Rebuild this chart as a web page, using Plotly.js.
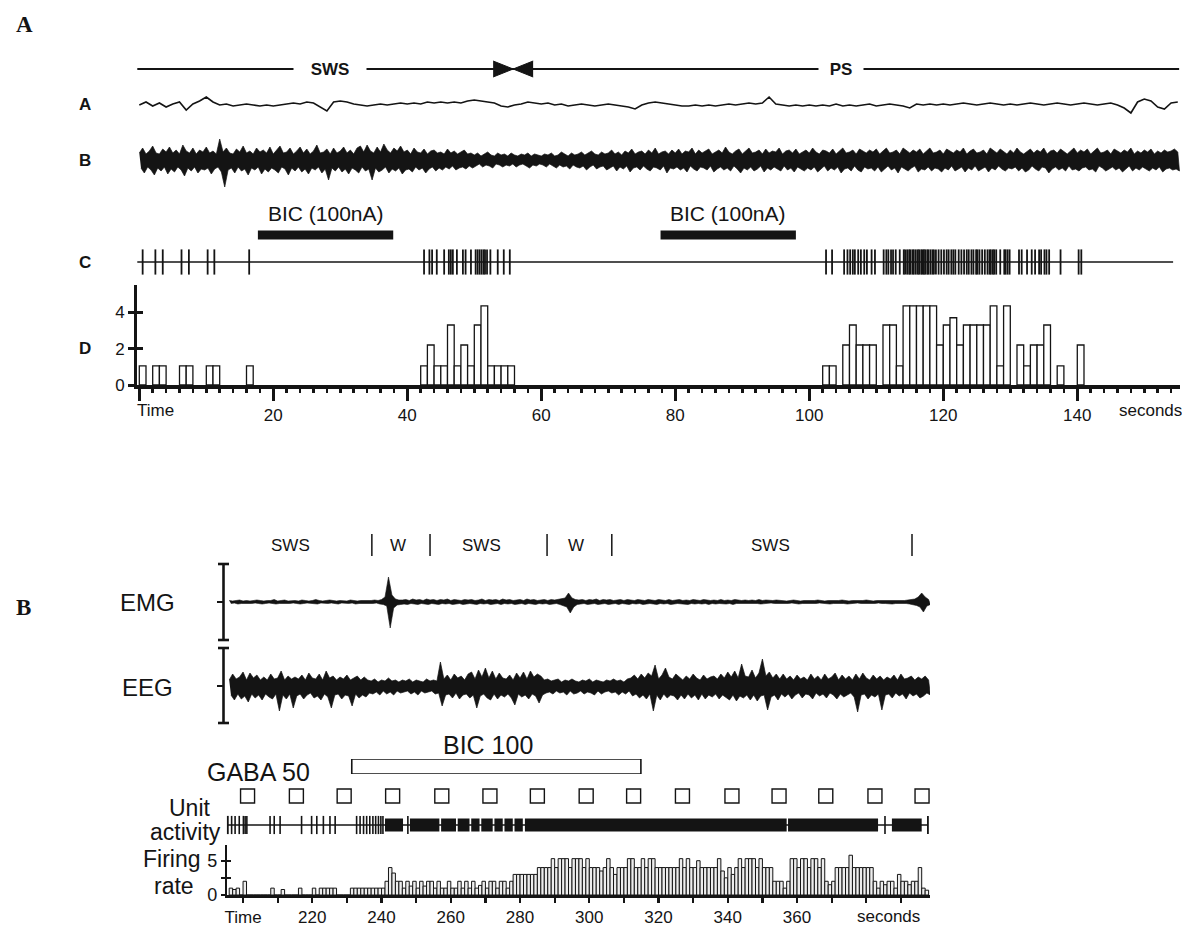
<!DOCTYPE html>
<html><head><meta charset="utf-8">
<script src="https://cdn.plot.ly/plotly-3.0.1.min.js"></script>
<style>html,body{margin:0;padding:0;background:#fff}#chart{width:1182px;height:927px}</style>
</head><body><div id="chart"></div>
<script>
// ===================== PANEL A DATA =====================
const stateA_labels = ['SWS', 'PS'];
const stateA_pos = [28.5, 104.8];
const stateA_change = 55.8;
const stateA_span = [-0.3, 155.2];

// trace A (1 s samples from t = 0)
const traceA = [0,3,-1,2,-2,1,3,-5,1,4, 8,3,0,1,-1,0,1,0,-1,0, -1,0,1,2,1,3,2,-2,-6,3,
 4,3,1,0,-1,0,1,0,1,2, 1,2,1,3,2,3,2,3,2,4, 5,4,3,2,-1,-2,0,1,3,2,
 1,2,0,1,-1,0,1,0,-1,0, 1,0,-1,-2,-4,0,2,3,2,1, 0,-1,-1,0,-1,0,-1,0,1,0,
 1,2,1,2,8,1,0,-1,0,-1, 0,-1,0,-1,1,-1,0,-1,0,1, -1,0,1,0,-1,-3,1,0,1,0,
 1,0,1,2,1,0,1,2,1,0, 1,0,1,2,1,0,1,2,1,0, 1,2,1,0,1,2,0,-3,-8,3, 6,4,-2,-4,2,3];

// trace B envelope (0.5 s samples from t = 0)
const eegA_hi = [7,12,6,9,14,7,6,11,8,13, 7,10,6,15,9,7,12,6,10,8,
 13,7,9,6,21,8,12,7,6,11, 8,14,7,9,6,12,8,10,7,13,
 6,10,14,7,8,12,6,9,13,7, 11,6,9,15,7,8,11,6,12,7,
 9,13,7,10,6,12,14,8,15,9, 7,13,8,16,10,7,12,9,14,8,
 10,6,12,8,7,11,6,9,10,7, 8,6,11,7,9,6,8,10,6,7,
 5,7,4,6,8,5,4,7,5,6, 4,7,5,4,6,5,7,4,6,5,
 4,6,5,7,4,5,8,6,4,7, 5,6,8,5,7,9,6,5,8,6,
 7,10,6,8,5,9,7,11,6,8, 9,6,10,7,12,6,8,9,6,10,
 7,11,6,9,8,12,6,10,7,9, 11,6,8,10,7,13,8,6,9,11,
 6,9,12,7,8,10,6,11,7,9, 8,12,6,9,10,7,11,6,8,10,
 7,12,8,6,10,9,7,11,6,9, 12,7,8,10,6,11,9,7,10,8,
 11,6,9,12,7,8,10,6,12,9, 7,10,8,11,6,9,12,7,8,10,
 6,11,9,7,10,8,12,6,9,11, 7,8,10,6,12,9,7,11,8,6,
 10,7,12,8,6,9,11,7,10,8, 12,6,9,10,7,11,8,6,9,12,
 7,10,8,11,6,9,12,7,8,10, 6,11,9,7,10,8,12,6,9,7,
 10,8,11,6,9,7,10,8,9,11, 8];
const eegA_lo = [-8,-13,-7,-10,-15,-8,-11,-7,-14,-9, -12,-7,-10,-16,-8,-11,-7,-13,-9,-10,
 -8,-14,-9,-7,-12,-27,-10,-8,-13,-7, -11,-9,-15,-8,-10,-7,-14,-9,-12,-8,
 -10,-13,-7,-9,-15,-8,-11,-7,-12,-9, -14,-8,-10,-7,-13,-9,-20,-8,-11,-7,
 -12,-9,-14,-8,-10,-13,-7,-11,-9,-20, -8,-12,-10,-7,-13,-9,-11,-8,-14,-10,
 -9,-12,-7,-10,-8,-13,-9,-7,-11,-8, -10,-7,-9,-6,-10,-8,-7,-9,-6,-8,
 -6,-4,-7,-5,-6,-8,-4,-5,-7,-5, -6,-4,-7,-5,-4,-6,-8,-5,-6,-4,
 -5,-7,-4,-6,-8,-5,-7,-6,-9,-5, -7,-8,-6,-10,-7,-5,-9,-7,-6,-10,
 -8,-6,-11,-7,-9,-6,-12,-8,-7,-10, -6,-9,-11,-7,-8,-10,-6,-13,-8,-9,
 -7,-10,-8,-12,-6,-9,-11,-7,-8,-10, -6,-12,-9,-7,-10,-8,-11,-6,-9,-13,
 -8,-10,-7,-11,-9,-6,-12,-8,-10,-7, -9,-11,-6,-10,-8,-12,-7,-9,-11,-8,
 -10,-7,-12,-9,-6,-11,-8,-10,-7,-13, -9,-8,-11,-6,-10,-12,-7,-9,-8,-11,
 -7,-12,-9,-6,-10,-8,-13,-7,-9,-11, -8,-6,-12,-9,-10,-7,-11,-8,-9,-12,
 -8,-10,-6,-11,-9,-7,-12,-8,-10,-6, -11,-9,-7,-12,-8,-10,-6,-9,-11,-8,
 -9,-7,-11,-8,-12,-10,-6,-9,-11,-7, -8,-13,-9,-7,-10,-8,-11,-6,-10,-9,
 -11,-8,-7,-10,-9,-12,-6,-8,-11,-9, -7,-10,-8,-12,-9,-6,-11,-8,-10,-7,
 -9,-11,-8,-10,-7,-12,-9,-8,-10,-9, -11];

const bicA_start = [17.7, 77.8];
const bicA_end = [37.9, 98.0];
const bicA_label = 'BIC (100nA)';

const rasterA_span = [-0.3, 154.3];
const spikesA = [0.5,2.4,3.5,6.3,7.4,10.2,11.2,16.4,
 42.5,43.3,43.7,44.4,45.5,46.2,46.5,46.8,47.4,48.3,48.7,49.5,50.2,50.5,50.8,51.1,51.4,51.6,51.9,52.4,53.5,54.4,55.3,
 102.5,103.4,105.2,105.7,106.1,106.5,106.8,107.3,107.7,108.2,108.6,109.3,109.8,111.1,111.5,111.8,112.2,112.5,112.9,113.5,
 114.1,114.3,114.6,114.9,115.1,115.4,115.6,115.9,116.2,116.4,116.7,116.9,117.1,117.3,117.6,117.8,118.1,118.4,118.6,118.9,
 119.3,119.7,120.1,120.5,120.8,121.2,121.5,121.8,122.3,122.7,123.1,123.5,123.8,124.2,124.5,124.9,125.1,125.4,125.8,
 126.2,126.6,126.9,127.1,127.4,127.6,127.9,128.5,129.1,129.3,129.6,129.9,131.3,131.7,132.5,133.2,133.7,134.3,134.6,
 135.1,135.4,135.8,137.5,140.2,140.6];

const histA_t = [0,2,3,6,7,10,11,16, 42,43,44,45,46,47,48,49,50,51,52,53,54,55,
 102,103,105,106,107,108,109,111,112,113,114,115,116,117,118,119,120,121,122,123,124,125,126,127,128,129,131,132,133,134,135,137,140];
const histA_h = [1.05,1.05,1.05,1.05,1.05,1.05,1.05,1.05,
 1.05,2.2,1.05,1.05,3.3,1.05,2.2,1.05,3.3,4.35,1.05,1.05,1.05,1.05,
 1.05,1.05,2.2,3.3,2.2,2.2,2.2,3.3,3.3,1.05,4.35,4.35,4.35,4.35,4.35,2.2,3.3,3.7,2.2,3.3,3.3,3.3,3.3,4.35,1.05,4.35,2.2,1.05,2.2,2.2,3.3,1.05,2.2];
const ticksA = [0,20,40,60,80,100,120,140];
const ticksA_text = ['','20','40','60','80','100','120','140'];
const rowLabelsA = ['A','B','C','D'];

// ===================== PANEL B DATA =====================
const tB0 = 196;
const emgHi = [1.5,1,1.5,2,1,1.5,1,1.5,2,1.5, 1,1.5,1.5,2.5,1,1.5,2,1,1.5,1.5, 1,2,1.5,1,1.5,2.5,1.5,1,1.5,2,
 1.5,1,1.5,1.5,1,2,1.5,1,1.5,1.5, 1,1.5,2,1.5,2.5,5,25,7,3,2, 2,2.5,1.5,3,2,2.5,1.5,3,2,2.5,
 1.5,2.5,2,3,1.5,2.5,2,1.5,2.5,2, 2.5,1.5,2,3,1.5,2.5,2,2.5,1.5,3, 2,2.5,1.5,2,2.5,1.5,3,2,2.5,1.5,
 2,2.5,1.5,2.5,2,2.5,3,4,9,4, 2.5,2,2.5,1.5,2.5,2,3,1.5,2.5,2, 2.5,1.5,2,2.5,1.5,2.5,2,1.5,2.5,2,
 1.5,2.5,2,1.5,2.5,2,1.5,2.5,1.5,2, 2.5,1.5,2,1.5,2.5,2,1.5,2.5,2,1.5, 2,1.5,2.5,1.5,2,1.5,2.5,2,1.5,2,
 1.5,2,1.5,2.5,1.5,2,1.5,1.5,2,1.5, 1.5,1,1.5,2,1.5,1,1.5,1.5,1,1.5, 2,1.5,1,1.5,1.5,1,1.5,2,1.5,1,
 1.5,1.5,1,1.5,2,1.5,1,1.5,1.5,1, 1.5,1,1.5,1.5,1,1.5,2,2.5,3,5, 9,5,2.5];
const emgLo = [-1.5,-1,-2,-1.5,-1,-1.5,-1.5,-1,-1.5,-2, -1.5,-1,-1.5,-2,-1.5,-1,-1.5,-1.5,-1,-1.5, -2,-1.5,-1,-1.5,-1.5,-2,-1,-1.5,-1.5,-1,
 -1.5,-2,-1,-1.5,-1.5,-1,-2,-1.5,-1.5,-1, -1.5,-1.5,-1,-2,-2.5,-4,-26,-6,-3,-2.5, -2,-2.5,-1.5,-2,-2.5,-1.5,-2,-2.5,-1.5,-2,
 -2.5,-1.5,-2,-1.5,-2.5,-2,-1.5,-2.5,-2,-1.5, -2,-2.5,-1.5,-2,-1.5,-2.5,-2,-1.5,-2.5,-1.5, -2,-1.5,-2.5,-2,-1.5,-2.5,-1.5,-2,-2.5,-1.5,
 -2,-1.5,-2.5,-2,-1.5,-2.5,-3.5,-5,-11,-5, -2.5,-2,-1.5,-2.5,-2,-1.5,-2.5,-2,-1.5,-2.5, -2,-1.5,-2.5,-1.5,-2,-2.5,-1.5,-2,-1.5,-2.5,
 -2,-1.5,-2,-2.5,-1.5,-2,-1.5,-2.5,-2,-1.5, -1.5,-2,-2.5,-1.5,-2,-1.5,-2,-1.5,-2.5,-1.5, -2,-1.5,-1.5,-2,-1.5,-2.5,-1.5,-2,-1.5,-1.5,
 -2,-1.5,-1.5,-2,-1.5,-1.5,-1,-1.5,-2,-1.5, -1.5,-1.5,-1,-1.5,-2,-1.5,-1,-1.5,-1.5,-1.5, -1,-1.5,-1.5,-2,-1.5,-1,-1.5,-1.5,-2,-1.5,
 -1.5,-1,-1.5,-1.5,-2,-1.5,-1.5,-1,-1.5,-1.5, -1.5,-2,-1.5,-1,-1.5,-1.5,-2,-2.5,-3.5,-5, -10,-4,-2.5];
const eegB_hi = [6,12,7,9,14,6,13,8,11,6, 9,6,12,7,8,15,6,10,7,9, 7,11,6,13,8,7,12,6,15,8,
 10,6,9,7,11,6,8,10,6,9, 6,5,7,4,6,5,8,5,6,4, 6,5,7,4,6,5,4,7,5,6,
 5,24,7,11,6,12,8,10,6,12, 14,7,16,9,18,8,15,7,13,8, 7,11,6,13,8,14,7,15,9,12,
 10,6,7,5,6,7,4,6,5,7, 5,4,6,5,7,4,6,5,4,6, 5,7,5,6,4,7,8,11,7,12,
 8,13,10,21,7,11,18,9,7,12, 9,6,10,7,12,8,6,11,7,9, 10,7,12,8,14,9,15,8,22,10,
 9,16,8,13,27,10,14,8,12,7, 12,7,10,6,11,7,9,6,12,7, 10,6,12,7,9,13,6,11,7,10,
 6,12,7,13,8,6,11,7,10,6, 9,7,11,6,12,7,8,10,6,9, 7,10,6];
const eegB_lo = [-9,-14,-8,-13,-10,-16,-8,-12,-9,-14, -8,-11,-13,-8,-25,-9,-13,-8,-22,-10, -8,-13,-9,-7,-12,-10,-14,-8,-11,-22,
 -9,-8,-13,-9,-10,-20,-8,-12,-9,-11, -7,-8,-6,-9,-5,-8,-6,-9,-5,-7, -6,-5,-8,-6,-9,-5,-7,-6,-5,-8,
 -7,-20,-9,-8,-12,-7,-13,-9,-8,-12, -9,-22,-10,-8,-12,-14,-8,-13,-9,-11, -8,-12,-19,-8,-11,-9,-13,-8,-10,-17,
 -9,-7,-6,-8,-5,-7,-6,-9,-5,-8, -7,-5,-8,-6,-7,-9,-5,-8,-6,-5, -7,-6,-9,-6,-8,-5,-10,-8,-12,-9,
 -13,-8,-25,-9,-14,-8,-12,-9,-10,-14, -9,-13,-8,-12,-9,-14,-8,-13,-9,-11, -8,-13,-9,-11,-14,-9,-15,-10,-12,-9,
 -14,-9,-15,-10,-9,-24,-11,-9,-14,-8, -11,-8,-13,-9,-7,-12,-8,-9,-13,-7, -10,-8,-12,-7,-9,-13,-8,-11,-9,-7,
 -11,-26,-9,-8,-13,-9,-11,-8,-24,-9, -8,-12,-7,-10,-8,-13,-7,-10,-8,-12, -10,-7,-9];

const rateB = [1,0.8,1,0,2,0,0,0,0,0, 0,0,1,0,0,0.8,0,0,0,0, 1,0,0,0,1,0,1,1,1,1,
 1,0,0,0,0,1,1,1,1,1, 1,1,1,1,1,2,4,3.2,2,2, 1,2,1.3,2,1,2,1.3,2,2,1,
 2,1,1,2,1,1,2,1,2,1, 2,1,1.4,2,1,2,2,1,2,2, 1,2,3,3,3,3,3,3,3,4,
 4,4,4,5.3,4,5.3,5.3,5.3,4,5.3, 5.3,5.3,4,5.3,4,4,4,3.5,4,5.3, 4,3,4,4,4,5.3,5.3,4,4,5.3,
 4,5.3,5.3,4,4,4,4,4,4,4, 5.3,4,5.3,4,4,5,4,4,4,4, 4,5.3,3.5,2.5,4,3,4,5.3,4,5.3,
 5.3,5.3,4,5.3,4,4,4,2,2,2, 1,2,5.3,5.3,4,5.3,5.3,4,5.3,5.3, 4,5.3,2,1.5,2,4,4,4,4,5.8,
 4,4,4,4,4,4,2,1,2,1.5, 2,2,1,3,2,2,1.5,2,2,4, 1,0.7];

const rasterB_span = [195.6, 397.8];
const spikesB = [196.7,197.7,198.9,200.1,200.6,201.1,207.8,209.0,210.7,216.9,219.8,221.3,223.2,225.1,226.6,
 232.8,233.8,234.8,235.7,236.6,237.5,238.3,239.1,239.8,240.4,247.6,385.4];
const blocksB_start = [241.0,248.2,257.2,262.0,265.9,268.8,272.6,275.5,278.4,281.4,357.4,387.4];
const blocksB_end   = [246.2,256.7,261.5,265.4,268.3,272.1,275.0,277.9,280.8,357.0,383.4,396.0];
const gabaB = [201.3,215.4,229.2,243.2,257.4,271.3,285.0,299.1,312.8,326.9,341.2,354.8,368.3,382.5,396.1];
const bicB = [231.4, 314.9];
const stateB_labels = ['SWS','W','SWS','W','SWS'];
const stateB_pos = [213.6,244.7,269.0,296.2,352.3];
const stateB_marks = [237.2,254.0,287.8,306.5,393.2];
const ticksB = [200,210,220,230,240,250,260,270,280,290,300,310,320,330,340,350,360,370,380,390];
const ticksB_text = ['Time','','220','','240','','260','','280','','300','','320','','340','','360','','',''];

// ===================== LAYOUT HELPERS =====================
const W = 1182, H = 927;
const X = p => p / W, Y = p => 1 - p / H;
const SANS = 'Liberation Sans, Arial, Helvetica, sans-serif';
const SERIF = 'Liberation Serif, Times New Roman, serif';
const INK = '#141414';

// closed envelope polygon (upper edge forward, lower edge back)
function band(t0, hi, lo, dt) {
  const x = [], y = [];
  for (let i = 0; i < hi.length; i++) { x.push(t0 + i * dt); y.push(hi[i]); }
  for (let i = lo.length - 1; i >= 0; i--) { x.push(t0 + i * dt + dt / 2); y.push(lo[i]); }
  return {x, y};
}
function segs(starts, ends, yv) {
  const x = [], y = [];
  for (let i = 0; i < starts.length; i++) { x.push(starts[i], ends[i], null); y.push(yv, yv, null); }
  return {x, y};
}
const pxPerSecA = 6.70;

const traces = [];
// ---- Panel A ----
traces.push({x: stateA_span, y: [0, 0], xaxis: 'x', yaxis: 'y14', mode: 'lines', line: {color: INK, width: 1.8}, hoverinfo: 'skip'});
const hw = 20 / pxPerSecA;
traces.push({x: [stateA_change - hw, stateA_change, stateA_change - hw], y: [8, 0, -8], xaxis: 'x', yaxis: 'y14', mode: 'lines', fill: 'toself', fillcolor: INK, line: {color: INK, width: 1}, hoverinfo: 'skip'});
traces.push({x: [stateA_change + hw, stateA_change, stateA_change + hw], y: [8, 0, -8], xaxis: 'x', yaxis: 'y14', mode: 'lines', fill: 'toself', fillcolor: INK, line: {color: INK, width: 1}, hoverinfo: 'skip'});
traces.push({x: traceA.map((v, i) => i), y: traceA, xaxis: 'x', yaxis: 'y', mode: 'lines', line: {color: INK, width: 1.6}, hoverinfo: 'skip'});
const zA = band(0, eegA_hi, eegA_lo, 0.5);
traces.push({x: zA.x, y: zA.y, xaxis: 'x', yaxis: 'y2', mode: 'lines', fill: 'toself', fillcolor: INK, line: {color: INK, width: 0.7}, hoverinfo: 'skip'});
const bA = segs(bicA_start, bicA_end, 0);
traces.push({x: bA.x, y: bA.y, xaxis: 'x', yaxis: 'y4', mode: 'lines', line: {color: INK, width: 9}, hoverinfo: 'skip'});
traces.push({x: rasterA_span, y: [0, 0], xaxis: 'x', yaxis: 'y3', mode: 'lines', line: {color: INK, width: 1.3}, hoverinfo: 'skip'});
traces.push({x: spikesA, y: spikesA.map(() => 0), xaxis: 'x', yaxis: 'y3', mode: 'markers', marker: {symbol: 'line-ns-open', size: 18, color: INK, line: {color: INK, width: 1.8}}, hoverinfo: 'skip', cliponaxis: false});
traces.push({type: 'bar', x: histA_t.map(t => t + 0.5), y: histA_h, width: histA_t.map(() => 1), xaxis: 'x', yaxis: 'y5', marker: {color: '#fff', line: {color: INK, width: 1.3}}, hoverinfo: 'skip'});

// ---- Panel B ----
traces.push({x: stateB_marks.flatMap(t => [t, t, null]), y: stateB_marks.flatMap(() => [-11, 11, null]), xaxis: 'x2', yaxis: 'y15', mode: 'lines', line: {color: INK, width: 1.5}, hoverinfo: 'skip'});
const zE = band(tB0, emgHi, emgLo, 1);
traces.push({x: zE.x, y: zE.y, xaxis: 'x2', yaxis: 'y7', mode: 'lines', fill: 'toself', fillcolor: INK, line: {color: INK, width: 0.6}, hoverinfo: 'skip'});
const zG = band(tB0, eegB_hi, eegB_lo, 1);
traces.push({x: zG.x, y: zG.y, xaxis: 'x2', yaxis: 'y8', mode: 'lines', fill: 'toself', fillcolor: INK, line: {color: INK, width: 0.7}, hoverinfo: 'skip'});
traces.push({x: [bicB[0], bicB[1], bicB[1], bicB[0], bicB[0]], y: [0, 0, 1, 1, 0], xaxis: 'x2', yaxis: 'y13', mode: 'lines', line: {color: INK, width: 1.6}, hoverinfo: 'skip'});
traces.push({x: gabaB, y: gabaB.map(() => 0), xaxis: 'x2', yaxis: 'y9', mode: 'markers', marker: {symbol: 'square-open', size: 14, color: INK, line: {color: INK, width: 1.4}}, hoverinfo: 'skip', cliponaxis: false});
traces.push({x: rasterB_span, y: [0, 0], xaxis: 'x2', yaxis: 'y10', mode: 'lines+markers', line: {color: INK, width: 1.3}, marker: {symbol: 'line-ns-open', size: 13, color: INK, line: {color: INK, width: 1.8}}, hoverinfo: 'skip', cliponaxis: false});
traces.push({x: spikesB, y: spikesB.map(() => 0), xaxis: 'x2', yaxis: 'y10', mode: 'markers', marker: {symbol: 'line-ns-open', size: 13, color: INK, line: {color: INK, width: 1.6}}, hoverinfo: 'skip', cliponaxis: false});
const blk = segs(blocksB_start, blocksB_end, 0);
traces.push({x: blk.x, y: blk.y, xaxis: 'x2', yaxis: 'y10', mode: 'lines', line: {color: INK, width: 13}, hoverinfo: 'skip'});
traces.push({type: 'bar', x: rateB.map((v, i) => tB0 + i + 0.5), y: rateB, width: rateB.map(() => 1), xaxis: 'x2', yaxis: 'y11', marker: {color: '#ededed', line: {color: INK, width: 1}}, hoverinfo: 'skip'});

// ---- axes ----
const hid = (d, r, anchor) => ({domain: [Y(d[0]), Y(d[1])], range: r, visible: false, anchor: anchor, fixedrange: true});
const layout = {
  width: W, height: H, margin: {l: 0, r: 0, t: 0, b: 0}, paper_bgcolor: '#fff', plot_bgcolor: 'rgba(0,0,0,0)',
  showlegend: false, barmode: 'overlay', font: {family: SANS, color: INK},
  xaxis: {domain: [X(137), X(1180)], range: [-0.343, 155.33], anchor: 'y5', showgrid: false, zeroline: false,
    showline: true, linewidth: 3.5, linecolor: INK, ticks: 'outside', ticklen: 12, tickwidth: 3, tickcolor: INK,
    tickmode: 'array', tickvals: ticksA, ticktext: ticksA_text, tickfont: {size: 17, family: SANS, color: INK}},
  xaxis3: {overlaying: 'x', anchor: 'y5', range: [-0.343, 155.33], showgrid: false, zeroline: false, showline: false,
    ticks: 'outside', ticklen: 7, tickwidth: 2.5, tickcolor: INK, tickmode: 'linear', tick0: 0, dtick: 2, showticklabels: false},
  yaxis: hid([125, 85], [-20, 20], 'x'),
  yaxis2: hid([195, 125], [-35, 35], 'x'),
  yaxis3: hid([272, 252], [-10, 10], 'x'),
  yaxis4: hid([245, 225], [-10, 10], 'x'),
  yaxis5: {domain: [Y(385), Y(285)], range: [0, 5.5], anchor: 'x', showgrid: false, zeroline: false, showline: true, linewidth: 3, linecolor: INK,
    ticks: 'outside', ticklen: 6, tickwidth: 3, tickcolor: INK, tickmode: 'array', tickvals: [0, 2, 4], ticktext: ['0', '2', '4'],
    tickfont: {size: 17, family: SANS, color: INK}},
  yaxis6: {overlaying: 'y5', range: [0, 5.5], anchor: 'x', showgrid: false, zeroline: false, showline: false, ticks: 'inside', ticklen: 6,
    tickwidth: 3, tickcolor: INK, tickmode: 'array', tickvals: [2, 4], showticklabels: false},
  yaxis14: hid([79, 59], [-10, 10], 'x'),

  xaxis2: {domain: [X(227.3), X(930)], range: [195.45, 398.4], anchor: 'y11', showgrid: false, zeroline: false,
    showline: true, linewidth: 2.5, linecolor: INK, ticks: 'outside', ticklen: 5, tickwidth: 2.2, tickcolor: INK,
    tickmode: 'array', tickvals: ticksB, ticktext: ticksB_text, tickfont: {size: 17, family: SANS, color: INK}},
  yaxis7: hid([640, 564], [-38, 38], 'x2'),
  yaxis8: hid([724, 648], [-38, 38], 'x2'),
  yaxis9: hid([806, 786], [-1, 1], 'x2'),
  yaxis10: hid([835, 815], [-10, 10], 'x2'),
  yaxis11: {domain: [Y(895), Y(845)], range: [0, 7.29], anchor: 'x2', showgrid: false, zeroline: false, showline: true, linewidth: 2.5, linecolor: INK,
    ticks: 'outside', ticklen: 4, tickwidth: 2, tickcolor: INK, tickmode: 'array', tickvals: [0, 2.5, 5], ticktext: ['0', '', '5'],
    tickfont: {size: 18, family: SANS, color: INK}},
  yaxis12: {overlaying: 'y11', range: [0, 7.29], anchor: 'x2', showgrid: false, zeroline: false, showline: false, ticks: 'inside', ticklen: 4,
    tickwidth: 2, tickcolor: INK, tickmode: 'array', tickvals: [2.5, 5], showticklabels: false},
  yaxis13: hid([774, 759], [0, 1], 'x2'),
  yaxis15: hid([560, 530], [-15, 15], 'x2'),
  annotations: [], shapes: []
};
// dummy traces so overlay axes render
traces.push({x: [0], y: [0], xaxis: 'x3', yaxis: 'y5', mode: 'markers', marker: {opacity: 0}, hoverinfo: 'skip'});
traces.push({x: [0], y: [0], xaxis: 'x', yaxis: 'y6', mode: 'markers', marker: {opacity: 0}, hoverinfo: 'skip'});
traces.push({x: [300], y: [0], xaxis: 'x2', yaxis: 'y12', mode: 'markers', marker: {opacity: 0}, hoverinfo: 'skip'});

const A = layout.annotations;
function ann(text, xp, yp, size, o) {
  A.push(Object.assign({text: text, x: X(xp), y: Y(yp), xref: 'paper', yref: 'paper', showarrow: false,
    xanchor: 'center', yanchor: 'middle', font: {family: SANS, size: size, color: INK}}, o || {}));
}
// panel letters
ann('<b>A</b>', 14, 24, 23, {xanchor: 'left', font: {family: SERIF, size: 23, color: INK}});
ann('<b>B</b>', 14, 607, 23, {xanchor: 'left', font: {family: SERIF, size: 23, color: INK}});
// row labels A
[105, 160, 262, 348].forEach((yy, i) => ann('<b>' + rowLabelsA[i] + '</b>', 85, yy, 17));
// state labels A (white box hides line)
const boxW = [70, 42];
stateA_labels.forEach((s, i) => A.push({text: '<b>' + s + '</b>', x: stateA_pos[i], xref: 'x', y: Y(69), yref: 'paper', showarrow: false,
  xanchor: 'center', yanchor: 'middle', bgcolor: '#fff', width: boxW[i], height: 20, font: {family: SANS, size: 17, color: INK}}));
// BIC labels A
bicA_start.forEach((s, i) => A.push({text: bicA_label, x: (s + bicA_end[i]) / 2, xref: 'x', y: Y(214), yref: 'paper', showarrow: false,
  xanchor: 'center', yanchor: 'middle', font: {family: SANS, size: 21, color: INK}}));
// Time / seconds A
ann('Time', 135, 411, 17, {xanchor: 'left'});
A.push({text: 'seconds', x: 151, xref: 'x', y: Y(411), yref: 'paper', showarrow: false, xanchor: 'center', yanchor: 'middle', font: {family: SANS, size: 17, color: INK}});
// Panel B labels
stateB_labels.forEach((s, i) => A.push({text: s, x: stateB_pos[i], xref: 'x2', y: Y(545), yref: 'paper', showarrow: false,
  xanchor: 'center', yanchor: 'middle', font: {family: SANS, size: 17, color: INK}}));
ann('EMG', 147, 602, 24);
ann('EEG', 147.5, 687, 24);
ann('BIC 100', 487.5, 745, 25);
ann('GABA 50', 258, 772, 25);
ann('Unit', 190, 808, 23);
ann('activity', 185, 832, 23);
ann('Firing', 172, 859, 23);
ann('rate', 174, 886, 23);
A.push({text: 'seconds', x: 386.3, xref: 'x2', y: Y(916), yref: 'paper', showarrow: false, xanchor: 'center', yanchor: 'middle', font: {family: SANS, size: 17, color: INK}});

// scale bars (EMG / EEG)
const S = layout.shapes;
function ln(x0, y0, x1, y1, w) { S.push({type: 'line', xref: 'paper', yref: 'paper', x0: X(x0), y0: Y(y0), x1: X(x1), y1: Y(y1), line: {color: INK, width: w}}); }
[[564, 640, 602], [648, 723, 686]].forEach(b => {
  ln(223.5, b[0], 223.5, b[1], 2.6);
  ln(218, b[0], 229, b[0], 2.6);
  ln(218, b[1], 229, b[1], 2.6);
  ln(217, b[2], 224, b[2], 2);
});

Plotly.newPlot('chart', traces, layout, {staticPlot: true, displayModeBar: false});
</script></body></html>
